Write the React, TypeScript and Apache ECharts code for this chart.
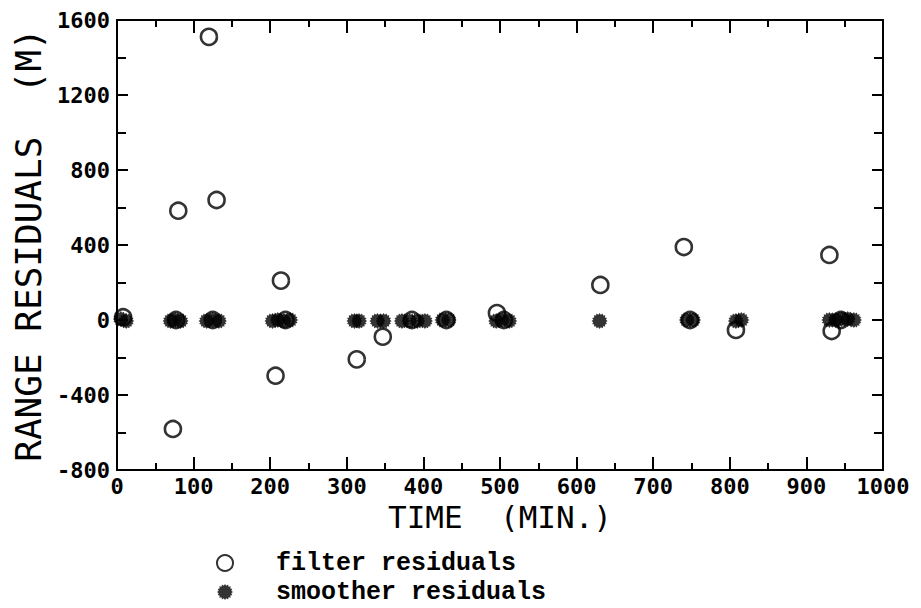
import React, { useEffect, useRef } from "react";
import * as echarts from "echarts";

// ---- data ----
const seriesNames = ["filter residuals", "smoother residuals"];

const filterTimes = [8, 73, 77, 80, 120, 125, 130, 207, 214, 220, 313, 347, 385, 430, 496, 505, 631, 740, 748, 808, 930, 933, 945];
const filterValues = [15, -581, 0, 583, 1510, 0, 640, -297, 210, 0, -210, -89, 0, 0, 37, 0, 187, 389, 0, -53, 347, -59, 0];

const smootherTimes = [5, 12, 70, 76, 83, 117, 125, 133, 203, 210, 218, 226, 310, 316, 340, 348, 372, 382, 392, 402, 425, 433, 495, 503, 512, 630, 744, 752, 808, 815, 930, 938, 946, 954, 962];
const smootherValues = [5, -5, -5, 0, -5, -5, 0, -5, -5, 0, -5, 0, -5, -5, -5, -5, -5, -5, -5, -5, 0, 0, -5, 0, -5, -5, 0, 0, -5, 0, 0, 0, 5, 5, 0];

const xMin = 0;
const xMax = 1000;
const xStep = 100;
const yMin = -800;
const yMax = 1600;
const yStep = 400;

const xTitle = "TIME  (MIN.)";
const yTitle = "RANGE RESIDUALS  (M)";

function starPath(): string {
  const n = 16;
  const pts: string[] = [];
  for (let i = 0; i < n * 2; i++) {
    const r = i % 2 === 0 ? 50 : 40;
    const a = (Math.PI * i) / n - Math.PI / 2;
    const x = 50 + r * Math.cos(a);
    const y = 50 + r * Math.sin(a);
    pts.push((i === 0 ? "M" : "L") + x.toFixed(2) + " " + y.toFixed(2));
  }
  return "path://" + pts.join(" ") + " Z";
}

export default function App() {
  const ref = useRef<HTMLDivElement>(null);

  useEffect(() => {
    if (!ref.current) return;
    const chart = echarts.init(ref.current, undefined, { renderer: "svg" });
    const black = "#000";
    const tickFont = {
      fontFamily: "DejaVu Sans Mono",
      fontWeight: "bold" as const,
      fontSize: 22,
      color: black,
      formatter: (v: number) => String(v),
    };
    const lineStyle = { color: black, width: 2 };
    const baseX = {
      type: "value" as const,
      min: xMin,
      max: xMax,
      interval: xStep,
      splitLine: { show: false },
      axisLine: { show: true, onZero: false, lineStyle },
      axisTick: { show: true, inside: true, length: 13, lineStyle },
      minorTick: { show: true, splitNumber: 2, length: 7, lineStyle },
    };
    const baseY = {
      type: "value" as const,
      min: yMin,
      max: yMax,
      interval: yStep,
      splitLine: { show: false },
      axisLine: { show: true, onZero: false, lineStyle },
      axisTick: { show: true, inside: true, length: 11, lineStyle },
      minorTick: { show: true, splitNumber: 2, length: 9, lineStyle },
    };
    const filterData = filterTimes.map((t, i) => [t, filterValues[i]]);
    const smootherData = smootherTimes.map((t, i) => [t, smootherValues[i]]);

    chart.setOption({
      animation: false,
      backgroundColor: "#fff",
      grid: { left: 117, right: 38, top: 20, bottom: 138, containLabel: false },
      xAxis: [
        {
          ...baseX,
          position: "bottom",
          axisLabel: { ...tickFont, margin: 5 },
          name: xTitle,
          nameLocation: "middle",
          nameGap: 28,
          nameTextStyle: { fontFamily: "DejaVu Sans Mono", fontSize: 31, color: black },
        },
        {
          ...baseX,
          position: "top",
          axisLabel: { show: false },
        },
      ],
      yAxis: [
        {
          ...baseY,
          position: "left",
          axisLabel: { ...tickFont, margin: 7 },
          name: yTitle,
          nameLocation: "middle",
          nameGap: 70,
          nameRotate: 90,
          nameTextStyle: { fontFamily: "DejaVu Sans Mono", fontSize: 36, color: black },
        },
        {
          ...baseY,
          position: "right",
          axisLabel: { show: false },
        },
      ],
      legend: {
        orient: "vertical",
        left: 216,
        top: 550,
        padding: 0,
        itemWidth: 16,
        itemHeight: 16,
        itemGap: 3,
        textStyle: {
          fontFamily: "Liberation Mono",
          fontWeight: "bold",
          fontSize: 25,
          lineHeight: 26,
          color: black,
          padding: [0, 0, 0, 38],
        },
        data: seriesNames,
      },
      series: [
        {
          name: seriesNames[0],
          type: "scatter",
          xAxisIndex: 0,
          yAxisIndex: 0,
          symbol: "circle",
          symbolSize: 16,
          itemStyle: { color: "rgba(255,255,255,0)", borderColor: black, borderWidth: 2.6 },
          data: filterData,
          z: 3,
        },
        {
          name: seriesNames[1],
          type: "scatter",
          xAxisIndex: 0,
          yAxisIndex: 0,
          symbol: starPath(),
          symbolSize: 16,
          itemStyle: { color: black },
          data: smootherData,
          z: 4,
        },
      ],
    });
    return () => chart.dispose();
  }, []);

  return (
    <div
      ref={ref}
      style={{ position: "fixed", left: 0, top: 0, width: 921, height: 608, background: "#fff" }}
    />
  );
}
